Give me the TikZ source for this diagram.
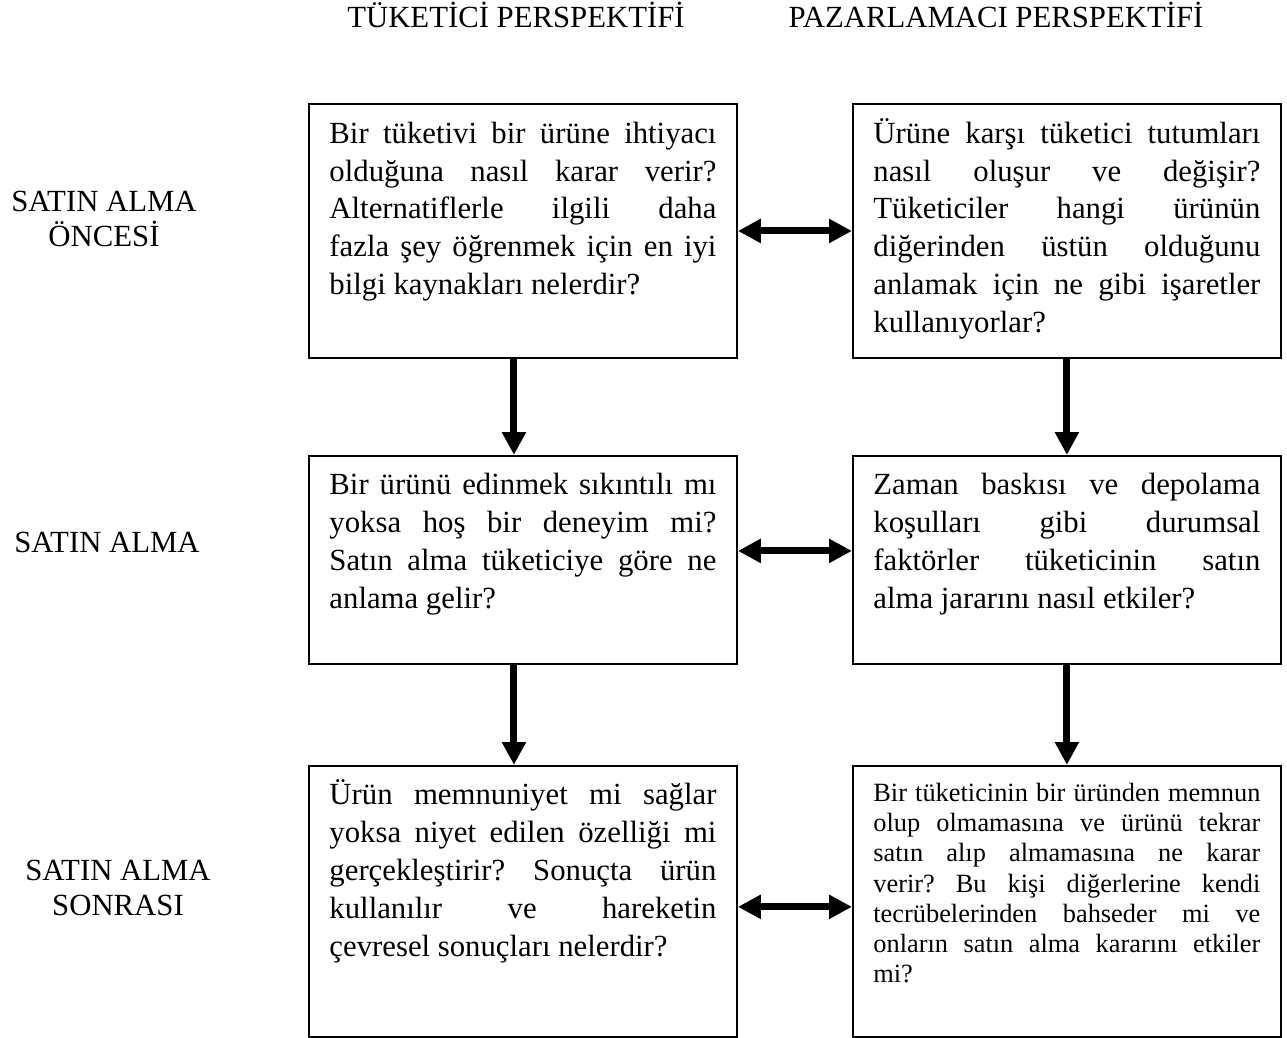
\documentclass[tikz,border=0pt]{standalone}
\usepackage{fontspec}
\setmainfont{Liberation Serif}
\usepackage{tikz}
\usetikzlibrary{arrows.meta, calc, positioning}
\newcommand{\bodysize}{\fontsize{17.5pt}{21.6pt}\selectfont}
\newcommand{\smallbodysize}{\fontsize{15pt}{17.1pt}\selectfont}
\newcommand{\labelsize}{\fontsize{17.5pt}{19.9pt}\selectfont}
\newcommand{\boxpar}[2]{\parbox[c][#1][t]{7.74cm}{\frenchspacing\tolerance=10000\hyphenpenalty=10000\strut #2}}
\tikzstyle{question} = [rectangle, line width=1.1pt, draw=black, inner xsep=0.41cm, inner ysep=0.25cm, font=\bodysize]
\tikzstyle{smallquestion} = [question, inner ysep=0.3cm, font=\smallbodysize]
\tikzstyle{header} = [font=\labelsize, anchor=base]
\tikzstyle{phase} = [font=\labelsize, align=center]
\tikzstyle{arrow} = [line width=4pt, -{Triangle[length=13pt, width=13pt]}]
\tikzstyle{dualarrow} = [line width=4pt, {Triangle[length=13pt, width=13pt]}-{Triangle[length=13pt, width=13pt]}]

\begin{document}
\begin{tikzpicture}[node distance = 2cm]
		\useasboundingbox (0,0) rectangle (25.74,-20.74);
		\node (Consumer01) [question, anchor=north west] at (6.16,-2.06) {\boxpar{4.58cm}{Bir tüketivi bir ürüne ihtiyacı\linebreak olduğuna nasıl karar verir?\linebreak Alternatiflerle ilgili daha\linebreak fazla şey öğrenmek için en iyi\linebreak bilgi kaynakları nelerdir?}};
		\node (Marketer01) [question, right = 2.28cm of Consumer01] {\boxpar{4.58cm}{Ürüne karşı tüketici tutumları\linebreak nasıl oluşur ve değişir?\linebreak Tüketiciler hangi ürünün\linebreak diğerinden üstün olduğunu\linebreak anlamak için ne gibi işaretler\linebreak kullanıyorlar?}};
		\node (Consumer02) [question, below = 1.92cm of Consumer01] {\boxpar{3.66cm}{Bir ürünü edinmek sıkıntılı mı\linebreak yoksa hoş bir deneyim mi?\linebreak Satın alma tüketiciye göre ne\linebreak anlama gelir?}};
		\node (Marketer02) [question, right = 2.28cm of Consumer02] {\boxpar{3.66cm}{Zaman baskısı ve depolama\linebreak koşulları gibi durumsal\linebreak faktörler tüketicinin satın\linebreak alma jararını nasıl etkiler?}};
		\node (Consumer03) [question, below = 2cm of Consumer02] {\boxpar{4.92cm}{Ürün memnuniyet mi sağlar\linebreak yoksa niyet edilen özelliği mi\linebreak gerçekleştirir? Sonuçta ürün\linebreak kullanılır ve hareketin\linebreak çevresel sonuçları nelerdir?}};
		\node (Marketer03) [smallquestion, right = 2.28cm of Consumer03] {\boxpar{4.82cm}{Bir tüketicinin bir üründen memnun\linebreak olup olmamasına ve ürünü tekrar\linebreak satın alıp almamasına ne karar\linebreak verir? Bu kişi diğerlerine kendi\linebreak tecrübelerinden bahseder mi ve\linebreak onların satın alma kararını etkiler\linebreak mi?}};
		
		\node (ConsumerHead) [header] at (10.32,-0.54) {TÜKETİCİ PERSPEKTİFİ};
		\node (MarketerHead) [header] at (19.92,-0.54) {PAZARLAMACI PERSPEKTİFİ};
		\node (Phase01) [phase] at (2.08,-4.37) {SATIN ALMA\\ÖNCESİ};
		\node (Phase02) [phase] at (2.14,-10.84) {SATIN ALMA};
		\node (Phase03) [phase] at (2.36,-17.75) {SATIN ALMA\\SONRASI};
		
		\draw [arrow] ($(Consumer01.south)+(-0.18,0)$) -- ($(Consumer02.north)+(-0.18,0)$);
		\draw [arrow] ($(Consumer02.south)+(-0.18,0)$) -- ($(Consumer03.north)+(-0.18,0)$);
		\draw [arrow] (Marketer01) -- (Marketer02);
		\draw [arrow] (Marketer02) -- (Marketer03);
		\draw [dualarrow] (Consumer01) -- (Marketer01);
		\draw [dualarrow] ($(Consumer02.east)+(0,0.18)$) -- ($(Marketer02.west)+(0,0.18)$);
		\draw [dualarrow] ($(Consumer03.east)+(0,-0.11)$) -- ($(Marketer03.west)+(0,-0.11)$);
\end{tikzpicture}
\end{document}
